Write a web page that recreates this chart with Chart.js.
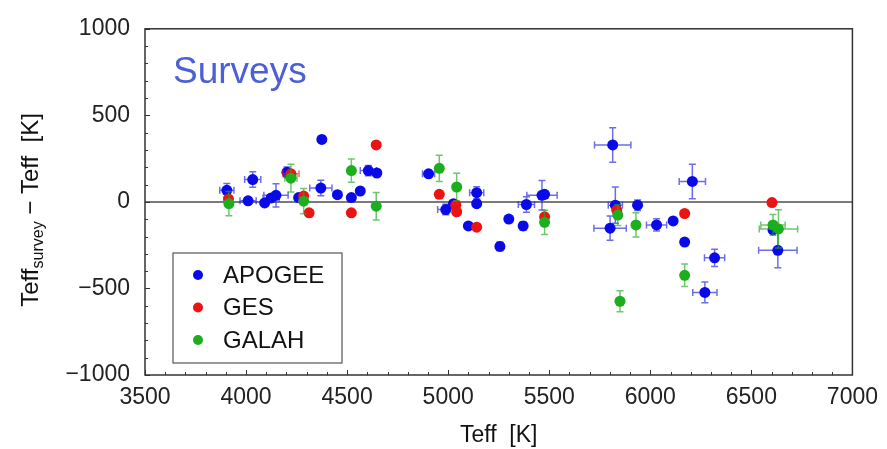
<!DOCTYPE html>
<html>
<head>
<meta charset="utf-8">
<script src="https://cdn.jsdelivr.net/npm/chart.js@4/dist/chart.umd.min.js"></script>
<style>
  html, body { margin: 0; padding: 0; background: #fff; }
  #wrap { width: 887px; height: 449px; }
</style>
</head>
<body>
<div id="wrap"><canvas id="chart" width="887" height="449"></canvas></div>
<script>
const FONT = "'Liberation Sans', Arial, sans-serif";

// APOGEE
const apogeeTeff = [3905, 4033, 4010, 4092, 4124, 4148, 4202, 4260, 4375, 4370, 4452, 4521, 4565, 4605, 4647,
  4903, 4988, 5026, 5100, 5141, 5141, 5256, 5300, 5371, 5387, 5464, 5477,
  5814, 5827, 5801, 5937, 6031, 6113, 6208, 6170, 6318, 6270, 6607, 6631];
const apogeeDiff = [67, 129, 6, -6, 23, 38, 171, 25, 361, 80, 42, 25, 63, 181, 167,
  162, -44, -10, -139, 53, -10, -257, -99, -139, -15, 38, 44,
  329, -19, -152, -19, -133, -110, 118, -232, -323, -523, -162, -280];
const apogeeXerr = [35, 40, 40, 0, 40, 60, 0, 0, 0, 55, 0, 0, 0, 40, 0,
  30, 40, 0, 0, 35, 0, 0, 0, 0, 40, 75, 0,
  90, 35, 80, 0, 50, 0, 65, 0, 50, 60, 0, 95];
const apogeeYerr = [40, 45, 0, 0, 0, 67, 30, 0, 0, 45, 0, 0, 0, 30, 0,
  0, 30, 0, 0, 35, 0, 25, 0, 25, 45, 85, 0,
  100, 105, 70, 30, 35, 0, 100, 20, 50, 60, 0, 100];

// GES
const gesTeff = [3913, 4222, 4285, 4312, 4521, 4644, 4956, 5038, 5042, 5141, 5477, 5834, 6170, 6602];
const gesDiff = [17, 162, 34, -63, -63, 329, 44, -19, -57, -146, -86, -48, -67, -4];
const gesXerr = [0, 40, 0, 0, 0, 0, 0, 0, 0, 0, 0, 0, 0, 0];
const gesYerr = [0, 0, 0, 0, 0, 0, 0, 0, 0, 0, 0, 0, 0, 0];

// GALAH
const galahTeff = [3915, 4222, 4285, 4521, 4644, 4956, 5042, 5477, 5839, 5850, 5929, 6170, 6607, 6634];
const galahDiff = [-10, 137, 4, 181, -25, 194, 86, -118, -76, -574, -133, -424, -133, -156];
const galahXerr = [0, 30, 0, 0, 0, 0, 0, 0, 0, 0, 0, 0, 60, 95];
const galahYerr = [70, 80, 73, 67, 80, 76, 80, 70, 60, 60, 70, 65, 60, 110];

const xTicks = [3500, 4000, 4500, 5000, 5500, 6000, 6500, 7000];
const yTicks = [-1000, -500, 0, 500, 1000];

function pts(xs, ys, xe, ye) {
  return xs.map((x, i) => ({ x, y: ys[i], xe: xe[i], ye: ye[i] }));
}

function series(label, data, color, errColor, order) {
  return {
    label, data, order,
    backgroundColor: color,
    borderWidth: 0,
    pointRadius: 5.5,
    pointHoverRadius: 5.5,
    errColor,
  };
}

const errorBars = {
  id: "errorBars",
  beforeDatasetDraw(chart, args) {
    const ds = chart.data.datasets[args.index];
    const xs = chart.scales.x, ys = chart.scales.y;
    const ctx = chart.ctx;
    const cap = 3.5;
    ctx.save();
    ctx.strokeStyle = ds.errColor;
    ctx.lineWidth = 1.5;
    ctx.beginPath();
    for (const p of ds.data) {
      const px = xs.getPixelForValue(p.x), py = ys.getPixelForValue(p.y);
      if (p.ye) {
        const t = ys.getPixelForValue(p.y + p.ye), b = ys.getPixelForValue(p.y - p.ye);
        ctx.moveTo(px, t); ctx.lineTo(px, b);
        ctx.moveTo(px - cap, t); ctx.lineTo(px + cap, t);
        ctx.moveTo(px - cap, b); ctx.lineTo(px + cap, b);
      }
      if (p.xe) {
        const l = xs.getPixelForValue(p.x - p.xe), r = xs.getPixelForValue(p.x + p.xe);
        ctx.moveTo(l, py); ctx.lineTo(r, py);
        ctx.moveTo(l, py - cap); ctx.lineTo(l, py + cap);
        ctx.moveTo(r, py - cap); ctx.lineTo(r, py + cap);
      }
    }
    ctx.stroke();
    ctx.restore();
  },
};

const decorations = {
  id: "decorations",
  afterDraw(chart) {
    const { ctx, chartArea: a } = chart;
    const xs = chart.scales.x, ys = chart.scales.y;
    ctx.save();

    // frame and inward ticks
    ctx.strokeStyle = "#333";
    ctx.lineWidth = 1.5;
    ctx.strokeRect(a.left, a.top, a.right - a.left, a.bottom - a.top);
    ctx.lineWidth = 1;
    ctx.beginPath();
    for (let v = 3500; v <= 7000; v += 100) {
      const px = Math.round(xs.getPixelForValue(v)) + 0.5;
      const len = v % 500 === 0 ? 5 : 3;
      ctx.moveTo(px, a.bottom); ctx.lineTo(px, a.bottom - len);
    }
    for (let v = -1000; v <= 1000; v += 100) {
      const py = Math.round(ys.getPixelForValue(v)) + 0.5;
      const len = v % 500 === 0 ? 5 : 3;
      ctx.moveTo(a.left, py); ctx.lineTo(a.left + len, py);
    }
    ctx.stroke();

    // title inside the plot
    ctx.fillStyle = "#4b5fd6";
    ctx.font = `37px ${FONT}`;
    ctx.textBaseline = "alphabetic";
    ctx.textAlign = "left";
    ctx.fillText("Surveys", 173, 83);

    // legend
    const lx = 173, ly = 253, lw = 169, lh = 110;
    ctx.fillStyle = "#fff";
    ctx.fillRect(lx, ly, lw, lh);
    ctx.strokeStyle = "#555";
    ctx.lineWidth = 1.2;
    ctx.strokeRect(lx, ly, lw, lh);
    ctx.font = `24px ${FONT}`;
    ctx.textBaseline = "middle";
    chart.data.datasets.forEach((ds, i) => {
      const cy = 275 + i * 32.5;
      ctx.fillStyle = ds.backgroundColor;
      ctx.beginPath();
      ctx.arc(198, cy, 5, 0, Math.PI * 2);
      ctx.fill();
      ctx.fillStyle = "#111";
      ctx.fillText(ds.label, 223, cy + 1);
    });

    // y-axis title with subscript
    const big = `24px ${FONT}`, small = `16px ${FONT}`;
    ctx.font = big;
    const w1 = ctx.measureText("Teff").width;
    const w3 = ctx.measureText(" \u2212 Teff  [K]").width;
    ctx.font = small;
    const w2 = ctx.measureText("survey").width;
    const total = w1 + w2 + w3;
    ctx.translate(30, (a.top + a.bottom) / 2 + 8);
    ctx.rotate(-Math.PI / 2);
    ctx.fillStyle = "#111";
    ctx.textBaseline = "alphabetic";
    ctx.font = big;
    let x0 = -total / 2;
    ctx.fillText("Teff", x0, 8);
    ctx.font = small;
    ctx.fillText("survey", x0 + w1, 13);
    ctx.font = big;
    ctx.fillText(" \u2212 Teff  [K]", x0 + w1 + w2, 8);
    ctx.restore();
  },
};

new Chart(document.getElementById("chart"), {
  type: "scatter",
  data: {
    datasets: [
      series("APOGEE", pts(apogeeTeff, apogeeDiff, apogeeXerr, apogeeYerr), "#0a0ae8", "rgba(30,30,225,0.65)", 2),
      series("GES", pts(gesTeff, gesDiff, gesXerr, gesYerr), "#ea1414", "rgba(230,30,30,0.65)", 1),
      series("GALAH", pts(galahTeff, galahDiff, galahXerr, galahYerr), "#1cae1c", "rgba(30,170,30,0.65)", 0),
    ],
  },
  options: {
    responsive: false,
    animation: false,
    layout: { padding: { top: 22, right: 27, left: 0, bottom: 0 } },
    plugins: {
      legend: { display: false },
      tooltip: { enabled: false },
    },
    scales: {
      x: {
        type: "linear",
        min: 3500,
        max: 7000,
        afterBuildTicks: (s) => { s.ticks = xTicks.map((v) => ({ value: v })); },
        afterFit: (s) => { s.height = 74; },
        ticks: {
          color: "#222",
          font: { family: FONT, size: 23 },
          padding: 9,
          maxRotation: 0,
          autoSkip: false,
          callback: (v) => String(v),
        },
        grid: { display: false, drawTicks: false },
        border: { display: false },
        title: {
          display: true,
          text: "Teff  [K]",
          color: "#111",
          font: { family: FONT, size: 23 },
          padding: { top: 2, bottom: 0 },
        },
      },
      y: {
        min: -1000,
        max: 1000,
        afterBuildTicks: (s) => { s.ticks = yTicks.map((v) => ({ value: v })); },
        afterFit: (s) => { s.width = 145; },
        ticks: {
          color: "#222",
          font: { family: FONT, size: 23 },
          padding: 15,
          callback: (v) => String(v).replace("-", "\u2212"),
        },
        grid: {
          drawTicks: false,
          color: (c) => (c.tick && c.tick.value === 0 ? "#7a7a7a" : "rgba(0,0,0,0)"),
          lineWidth: 2,
        },
        border: { display: false },
      },
    },
  },
  plugins: [errorBars, decorations],
});
</script>
</body>
</html>
